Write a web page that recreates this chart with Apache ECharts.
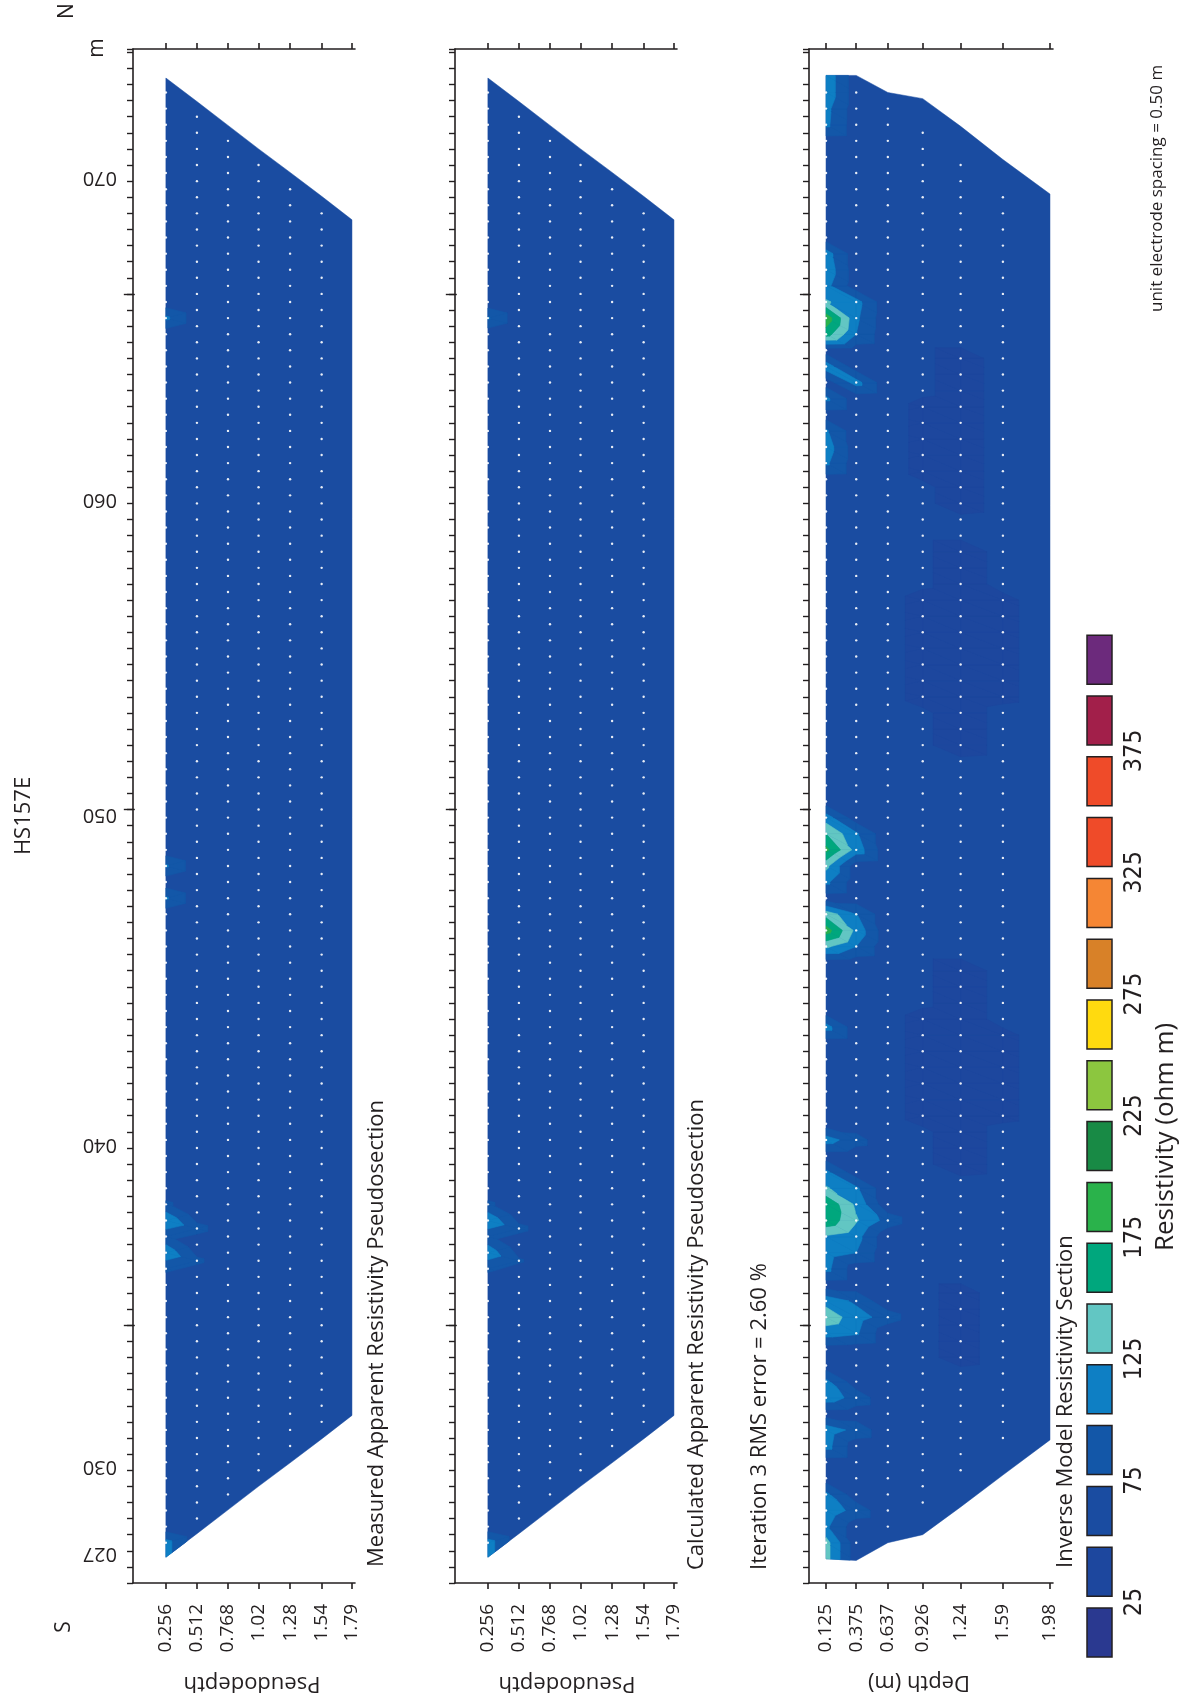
<!DOCTYPE html>
<html>
<head>
<meta charset="utf-8">
<title>HS157E resistivity sections</title>
<script src="https://cdn.jsdelivr.net/npm/echarts@6/dist/echarts.min.js"></script>
<style>
html, body { margin: 0; padding: 0; background: #fff; }
#main { width: 1185px; height: 1707px; }
</style>
</head>
<body>
<div id="main"></div>
<script>
// position along the line (labels are drawn upside down on the left axis)
var positionLabels = ['027', '030', '040', '050', '060', '070'];
var positionLabelAt = [27.4, 30.1, 40.1, 50.35, 60.1, 70.1];
var majorTickAt = [34.5, 50.5, 66.5];

// depth levels
var pseudoDepths = ['0.256', '0.512', '0.768', '1.02', '1.28', '1.54', '1.79'];
var modelDepths = ['0.125', '0.375', '0.637', '0.926', '1.24', '1.59', '1.98'];

// first / last data point on each level (points are 0.5 apart)
var pseudoFirst = [27.75, 28.5, 29.25, 30.0, 30.75, 31.5, 32.25];
var pseudoLast = [72.75, 72.0, 71.25, 70.5, 69.75, 69.0, 68.25];
var modelFirst = [27.75, 27.75, 28.25, 29.0, 30.0, 31.0, 31.5];
var modelLast = [72.75, 72.75, 72.25, 71.5, 70.5, 69.5, 69.0];

// outer edge of the coloured section on each level
var pseudoEdgeLo = [27.3, 28.03, 28.77, 29.5, 30.23, 30.97, 31.7];
var pseudoEdgeHi = [73.2, 72.47, 71.73, 71.0, 70.27, 69.53, 68.8];
var modelEdgeLo = [27.25, 27.2, 27.75, 28.0, 28.86, 29.85, 30.94];
var modelEdgeHi = [73.28, 73.28, 72.75, 72.56, 71.7, 70.67, 69.6];

// background resistivity (ohm m) per level
var measuredBase = [58, 58, 58, 58, 58, 58, 58];
var calculatedBase = [58, 58, 58, 58, 58, 58, 58];
var modelBase = [62, 60, 56, 53, 53, 55, 58];

// departures from the background: [level, position, value] or [level, from, to, value]
var measuredPatches = [
  [0, 27.75, 110], [0, 36.25, 80], [0, 36.75, 118], [0, 37.25, 82], [0, 37.75, 122],
  [0, 38.25, 80], [0, 47.75, 104], [0, 48.75, 104], [0, 65.75, 106],
  [1, 36.5, 80], [1, 37.5, 84]
];
var calculatedPatches = [
  [0, 27.75, 112], [0, 36.25, 80], [0, 36.75, 116], [0, 37.25, 82], [0, 37.75, 120],
  [0, 38.25, 80], [0, 65.75, 103],
  [1, 36.5, 78], [1, 37.5, 82]
];
var modelPatches = [
  [0, 27.75, 135], [0, 28.25, 105], [0, 28.75, 118], [0, 29.25, 106], [1, 28.75, 90],
  [0, 30.75, 110], [0, 31.25, 115], [1, 31.25, 92],
  [0, 32.25, 115], [0, 32.75, 106], [1, 32.25, 90],
  [0, 34.25, 112], [0, 34.75, 140], [0, 35.25, 116], [1, 34.25, 104], [1, 34.75, 112], [1, 35.25, 95], [2, 34.75, 88],
  [0, 36.25, 108], [0, 36.75, 114], [1, 36.75, 100],
  [0, 37.25, 122], [0, 37.75, 168], [0, 38.25, 172], [0, 38.75, 128], [0, 39.25, 106],
  [1, 37.25, 110], [1, 37.75, 128], [1, 38.25, 120], [1, 38.75, 105], [2, 37.75, 90],
  [0, 40.25, 112], [1, 40.25, 85], [0, 43.75, 110],
  [0, 46.25, 130], [0, 46.75, 188], [0, 47.25, 140], [1, 46.25, 100], [1, 46.75, 118], [1, 47.25, 102],
  [0, 48.25, 106], [0, 48.75, 132], [0, 49.25, 182], [0, 49.75, 150], [0, 50.25, 112], [1, 49.25, 115], [1, 49.75, 104],
  [0, 61.25, 105], [0, 61.75, 114], [0, 62.25, 104],
  [0, 63.25, 106], [1, 63.75, 110], [0, 64.25, 114],
  [0, 65.25, 162], [0, 65.75, 192], [0, 66.25, 128], [1, 65.25, 100], [1, 65.75, 105], [1, 66.25, 110],
  [0, 66.75, 108], [0, 67.25, 118], [0, 67.75, 112], [0, 71.75, 106], [0, 72.25, 108], [0, 72.75, 118],
  [3, 41, 44, 44], [3, 54, 57, 44], [3, 61, 63, 46],
  [4, 33.5, 35.5, 46], [4, 39.5, 45.5, 42], [4, 52.5, 58.5, 42], [4, 60, 64.5, 44],
  [5, 41, 43.5, 46], [5, 54, 57, 46]
];

// colour scale
var bandLimits = [25, 50, 75, 100, 125, 150, 175, 200, 225, 250, 275, 300, 325, 350, 375, 400];
var bandColors = ['#2a3990', '#1d479e', '#1a4ca1', '#1357a8', '#0e7fc4', '#62c6c3', '#00a77d', '#2ab24b',
  '#188a45', '#8cc63f', '#ffda0f', '#d88128', '#f58634', '#ef4b29', '#ef4b29', '#a21f4a', '#6c2a7c'];
var legendLabels = ['25', '75', '125', '175', '225', '275', '325', '375'];

var ink = '#231f20';
var font = '"Open Sans", "Noto Sans", sans-serif';

function bandOf(v) {
  var b = 0;
  while (b < bandLimits.length && v >= bandLimits[b]) b++;
  return b;
}

function nearest(list, v) {
  var best = 0;
  for (var i = 1; i < list.length; i++) if (Math.abs(list[i] - v) < Math.abs(list[best] - v)) best = i;
  return best;
}

function levelNodes(sec, L) {
  var pos = [sec.edgeLo[L]];
  for (var p = sec.first[L]; p <= sec.last[L] + 1e-6; p += 0.5) pos.push(p);
  pos.push(sec.edgeHi[L]);
  var vals = pos.map(function () { return sec.base[L]; });
  sec.patches.forEach(function (pt) {
    if (pt[0] !== L) return;
    var from = pt[1], to = pt.length === 4 ? pt[2] : pt[1], v = pt[pt.length - 1];
    for (var i = 1; i < pos.length - 1; i++) {
      if (pos[i] >= from - 0.01 && pos[i] <= to + 0.01) vals[i] = v;
    }
  });
  vals[0] = vals[1];
  vals[vals.length - 1] = vals[vals.length - 2];
  return { pos: pos, vals: vals };
}

function clipPoly(poly, keep) {
  var out = [];
  for (var i = 0; i < poly.length; i++) {
    var a = poly[i], b = poly[(i + 1) % poly.length];
    var da = keep(a), db = keep(b);
    if (da >= 0) out.push(a);
    if ((da >= 0) !== (db >= 0)) {
      var t = da / (da - db);
      out.push([a[0] + t * (b[0] - a[0]), a[1] + t * (b[1] - a[1]), a[2] + t * (b[2] - a[2])]);
    }
  }
  return out;
}

function sectionRenderer(sec) {
  return function (params, api) {
    var depths = sec.depths.map(parseFloat);
    var levels = depths.map(function (d, L) {
      var n = levelNodes(sec, L);
      return n.pos.map(function (p, i) {
        var c = api.coord([d, p]);
        return [c[0], c[1], n.vals[i], p];
      });
    });
    var baseBand = bandOf(sec.base[0]);
    var outline = [];
    levels.forEach(function (l) { outline.push([l[0][0], l[0][1]]); });
    for (var k = levels.length - 1; k >= 0; k--) {
      var last = levels[k][levels[k].length - 1];
      outline.push([last[0], last[1]]);
    }
    var children = [{
      type: 'polygon', shape: { points: outline },
      style: { fill: bandColors[baseBand], stroke: bandColors[baseBand], lineWidth: 0.5 }
    }];

    function addBands(tri) {
      var vs = tri.map(function (t) { return t[2]; });
      var b0 = bandOf(Math.min.apply(null, vs)), b1 = bandOf(Math.max.apply(null, vs));
      for (var b = b0; b <= b1; b++) {
        if (b === baseBand) continue;
        var poly = tri.map(function (t) { return [t[0], t[1], t[2]]; });
        if (b > 0) {
          var lo = bandLimits[b - 1];
          poly = clipPoly(poly, function (q) { return q[2] - lo; });
        }
        if (b < bandLimits.length && poly.length >= 3) {
          var hi = bandLimits[b];
          poly = clipPoly(poly, function (q) { return hi - q[2] - 1e-9; });
        }
        if (poly.length >= 3) {
          children.push({
            type: 'polygon',
            shape: { points: poly.map(function (q) { return [q[0], q[1]]; }) },
            style: { fill: bandColors[b], stroke: bandColors[b], lineWidth: 0.6 }
          });
        }
      }
    }

    for (var L = 0; L < levels.length - 1; L++) {
      var A = levels[L], B = levels[L + 1], i = 0, j = 0;
      while (i < A.length - 1 || j < B.length - 1) {
        if (j >= B.length - 1 || (i < A.length - 1 && A[i + 1][3] <= B[j + 1][3])) {
          addBands([A[i], A[i + 1], B[j]]);
          i++;
        } else {
          addBands([A[i], B[j], B[j + 1]]);
          j++;
        }
      }
    }
    return { type: 'group', children: children };
  };
}

function dotData(sec, nLevels) {
  var out = [];
  for (var L = 0; L < nLevels; L++) {
    var d = parseFloat(sec.depths[L]);
    for (var p = sec.first[L]; p <= sec.last[L] + 1e-6; p += 0.5) out.push([d, p]);
  }
  return out;
}

var sections = [
  { depths: pseudoDepths, first: pseudoFirst, last: pseudoLast, edgeLo: pseudoEdgeLo, edgeHi: pseudoEdgeHi,
    base: measuredBase, patches: measuredPatches, grid: { left: 133, width: 222 }, dmin: -0.015, dmax: 1.815 },
  { depths: pseudoDepths, first: pseudoFirst, last: pseudoLast, edgeLo: pseudoEdgeLo, edgeHi: pseudoEdgeHi,
    base: calculatedBase, patches: calculatedPatches, grid: { left: 455, width: 222 }, dmin: -0.015, dmax: 1.815 },
  { depths: modelDepths, first: modelFirst, last: modelLast, edgeLo: modelEdgeLo, edgeHi: modelEdgeHi,
    base: modelBase, patches: modelPatches, grid: { left: 809, width: 244 }, dmin: -0.016, dmax: 2.005 }
];

var lineStyle = { color: ink, width: 1.6 };
var grids = [], xAxes = [], yAxes = [], series = [];

sections.forEach(function (sec, g) {
  var depthValues = sec.depths.map(parseFloat);
  grids.push({ left: sec.grid.left, width: sec.grid.width, top: 49, height: 1534, outerBoundsMode: 'none' });
  xAxes.push({
    gridIndex: g, type: 'value', position: 'bottom', min: sec.dmin, max: sec.dmax,
    axisLine: { onZero: false, lineStyle: lineStyle },
    axisTick: { customValues: depthValues, length: 6, lineStyle: lineStyle },
    axisLabel: {
      customValues: depthValues, rotate: 90, margin: 21, fontSize: 19, fontFamily: font, color: ink,
      formatter: function (v) { return sec.depths[nearest(depthValues, v)]; }
    },
    splitLine: { show: false }
  });
  xAxes.push({
    gridIndex: g, type: 'value', position: 'top', min: sec.dmin, max: sec.dmax,
    axisLine: { onZero: false, lineStyle: lineStyle },
    axisTick: { customValues: depthValues, length: 6, lineStyle: lineStyle },
    axisLabel: { show: false },
    splitLine: { show: false }
  });
  yAxes.push({
    gridIndex: g, type: 'value', position: 'left', min: 26.5, max: 74.1, interval: 0.5,
    axisLine: { onZero: false, lineStyle: lineStyle },
    axisTick: { length: 6, lineStyle: { color: ink, width: 1.4 } },
    axisLabel: g === 0 ? {
      customValues: positionLabelAt, rotate: 180, margin: 16, fontSize: 20, fontFamily: font, color: ink,
      formatter: function (v) { return positionLabels[nearest(positionLabelAt, v)]; }
    } : { show: false },
    splitLine: { show: false }
  });
  yAxes.push({
    gridIndex: g, type: 'value', position: 'left', min: 26.5, max: 74.1,
    axisLine: { show: false },
    axisTick: { customValues: majorTickAt, length: 11, lineStyle: { color: ink, width: 1.4 } },
    axisLabel: { show: false },
    splitLine: { show: false }
  });
  series.push({
    type: 'custom', xAxisIndex: 2 * g, yAxisIndex: 2 * g, data: [[0.5, 50]],
    renderItem: sectionRenderer(sec), clip: false, silent: true, z: 1
  });
  series.push({
    type: 'scatter', xAxisIndex: 2 * g, yAxisIndex: 2 * g, data: dotData(sec, 6),
    symbol: 'circle', symbolSize: 2.4, itemStyle: { color: '#ffffff', opacity: 0.9 }, silent: true, z: 3
  });
});

function vtext(text, x, y, size, align, rot, extra) {
  var s = {
    text: text, font: (extra || '') + ' ' + size + 'px ' + font, fill: ink,
    textAlign: align, textVerticalAlign: 'middle', align: align, verticalAlign: 'middle'
  };
  return { type: 'text', x: x, y: y, rotation: rot * Math.PI / 180, style: s, silent: true };
}

var graphics = [
  vtext('HS157E', 24, 816, 22, 'center', 90, '500'),
  vtext('N', 67, 11, 21, 'center', 90),
  vtext('S', 64, 1627, 21, 'center', 90),
  vtext('m', 97, 48, 21, 'center', 90),
  vtext('Measured Apparent Resistivity Pseudosection', 377, 1567, 22, 'left', 90),
  vtext('Calculated Apparent Resistivity Pseudosection', 697, 1570, 22, 'left', 90),
  vtext('Iteration 3 RMS error = 2.60 %', 760, 1570, 22, 'left', 90),
  vtext('Inverse Model Resistivity Section', 1066, 1568, 22, 'left', 90),
  vtext('unit electrode spacing = 0.50 m', 1157, 312, 17, 'left', 90),
  vtext('Resistivity (ohm m)', 1166, 1137, 26, 'center', 90),
  vtext('Pseudodepth', 252, 1683, 22, 'center', 180),
  vtext('Pseudodepth', 567, 1683, 22, 'center', 180),
  vtext('Depth (m)', 919, 1682, 22, 'center', 180)
];

bandColors.forEach(function (c, k) {
  graphics.push({
    type: 'rect', silent: true,
    shape: { x: 1087, y: 1608 - 60.8 * k, width: 25, height: 49 },
    style: { fill: c, stroke: ink, lineWidth: 1.5 }
  });
});
legendLabels.forEach(function (t, j) {
  var el = vtext(t, 1134, 1602 - 60.8 * 2 * j, 25, 'center', 90);
  el.style.font = '25px "Liberation Sans Narrow", "DejaVu Sans Condensed", sans-serif';
  graphics.push(el);
});

var chart = echarts.init(document.getElementById('main'));
chart.setOption({
  backgroundColor: '#ffffff',
  animation: false,
  grid: grids,
  xAxis: xAxes,
  yAxis: yAxes,
  series: series,
  graphic: { elements: graphics }
});
</script>
</body>
</html>
